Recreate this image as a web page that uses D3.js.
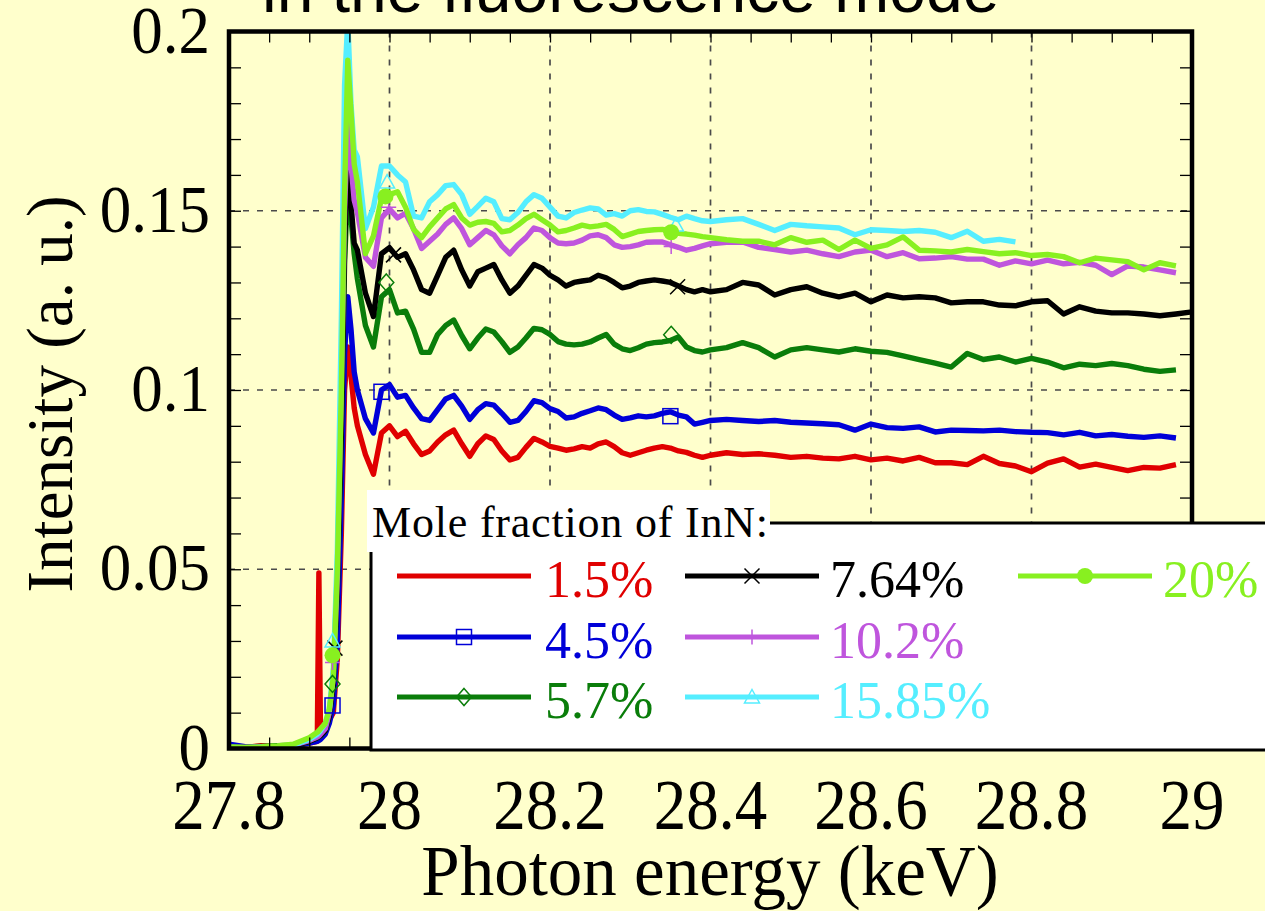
<!DOCTYPE html>
<html>
<head>
<meta charset="utf-8">
<script src="https://cdn.jsdelivr.net/npm/d3@7"></script>
<style>
  html, body { margin: 0; padding: 0; background: #ffffcc; }
  svg { display: block; }
</style>
</head>
<body>
<svg id="chart" width="1265" height="911"></svg>
<script>
// Photon energy grid (keV) shared by all spectra
const energy = [
  27.80, 27.82, 27.84, 27.86, 27.88, 27.90, 27.91, 27.912, 27.914, 27.92,
  27.925, 27.93, 27.935, 27.94, 27.944, 27.948, 27.952, 27.956, 27.96,
  27.97, 27.98, 27.99, 28.00, 28.01, 28.02, 28.03, 28.04, 28.05, 28.06,
  28.07, 28.08, 28.09, 28.10, 28.11, 28.12, 28.13, 28.14, 28.15, 28.16,
  28.17, 28.18, 28.19, 28.20, 28.21, 28.22, 28.23, 28.24, 28.25, 28.26,
  28.27, 28.28, 28.29, 28.30, 28.31, 28.32, 28.33, 28.34, 28.35, 28.36,
  28.37, 28.38, 28.39, 28.40,
  28.42, 28.44, 28.46, 28.48, 28.50, 28.52, 28.54, 28.56, 28.58, 28.60,
  28.62, 28.64, 28.66, 28.68, 28.70, 28.72, 28.74, 28.76, 28.78, 28.80,
  28.82, 28.84, 28.86, 28.88, 28.90, 28.92, 28.94, 28.96, 28.98, 29.00
];

// Fluorescence intensity (a. u.) for each InN mole fraction
const inn1_5 = [
  0.0003, 0.0002, 0.0008, 0.0004, 0.0006, 0.0015, 0.002, 0.049, 0.005, 0.006,
  0.008, 0.010, 0.025, 0.060, 0.100, 0.112, 0.104, 0.095, 0.090,
  0.082, 0.0765, 0.088, 0.090, 0.087, 0.0885, 0.085, 0.082, 0.083, 0.0855,
  0.0875, 0.0888, 0.085, 0.0815, 0.085, 0.0872, 0.0862, 0.083, 0.0805, 0.0812,
  0.084, 0.0865, 0.0855, 0.0843, 0.0838, 0.0832, 0.0836, 0.0842, 0.0838, 0.085,
  0.0855, 0.0842, 0.0825, 0.0818, 0.0825, 0.0832, 0.0838, 0.0842, 0.0838, 0.083,
  0.0826, 0.0818, 0.0812, 0.0818,
  0.0825, 0.082, 0.0822, 0.0818, 0.0812, 0.0815, 0.081, 0.0808, 0.0815, 0.0805,
  0.081, 0.0802, 0.0812, 0.0797, 0.0797, 0.0792, 0.0815, 0.0795, 0.0788, 0.0772,
  0.0796, 0.0808, 0.0785, 0.0793, 0.0784, 0.0775, 0.0784, 0.0782, 0.0792, null
];
const inn4_5 = [
  0.0012, 0.0005, 0.0004, 0.0003, 0.0008, 0.0015, 0.002, 0.0022, 0.0025, 0.004,
  0.007, 0.012, 0.030, 0.070, 0.110, 0.126, 0.117, 0.105, 0.100,
  0.092, 0.088, 0.100, 0.1015, 0.098, 0.0985, 0.095, 0.092, 0.0915, 0.0945,
  0.0975, 0.0985, 0.0955, 0.0918, 0.0945, 0.0962, 0.0958, 0.0935, 0.091, 0.0915,
  0.094, 0.097, 0.0965, 0.0948, 0.094, 0.0922, 0.0925, 0.0935, 0.0942, 0.095,
  0.0945, 0.093, 0.0918, 0.0922, 0.0928, 0.0925, 0.0928, 0.0935, 0.0939, 0.093,
  0.0925, 0.0905, 0.091, 0.0915,
  0.0918, 0.0915, 0.0912, 0.0915, 0.091, 0.0908, 0.0906, 0.0903, 0.0888, 0.0905,
  0.0895, 0.0893, 0.0897, 0.0883, 0.0888, 0.0887, 0.0886, 0.0888, 0.0884, 0.0882,
  0.0881, 0.0875, 0.0882, 0.0872, 0.0876, 0.0871, 0.0868, 0.0872, 0.0866, null
];
const inn5_7 = [
  0.0004, 0.0003, 0.0006, 0.0008, 0.0009, 0.002, 0.003, 0.0033, 0.0036, 0.005,
  0.009, 0.018, 0.045, 0.090, 0.135, 0.158, 0.148, 0.138, 0.131,
  0.118, 0.112, 0.126, 0.128, 0.1215, 0.122, 0.117, 0.1105, 0.1105, 0.1155,
  0.118, 0.1195, 0.1152, 0.1115, 0.1145, 0.117, 0.1162, 0.1135, 0.1105, 0.112,
  0.1145, 0.1172, 0.1168, 0.1155, 0.1135, 0.1128, 0.1126, 0.1128, 0.1134, 0.1145,
  0.1155, 0.1128, 0.1115, 0.111, 0.1118, 0.1128, 0.1132, 0.1134, 0.1138, 0.1148,
  0.112, 0.111, 0.1106, 0.1112,
  0.1118, 0.1132, 0.1118, 0.1092, 0.1112, 0.1118, 0.1112, 0.1106, 0.1115, 0.1108,
  0.1105, 0.1095, 0.1085, 0.1075, 0.1064, 0.1102, 0.1085, 0.1092, 0.1078, 0.1088,
  0.1078, 0.1062, 0.1072, 0.1068, 0.1074, 0.1068, 0.1058, 0.1052, 0.1056, null
];
const inn7_64 = [
  0.0003, 0.0002, 0.0005, 0.0006, 0.0008, 0.002, 0.003, 0.0033, 0.0036, 0.005,
  0.009, 0.018, 0.045, 0.090, 0.140, 0.167, 0.152, 0.141, 0.139,
  0.127, 0.1205, 0.138, 0.1397, 0.137, 0.138, 0.1335, 0.128, 0.127, 0.132,
  0.137, 0.139, 0.1335, 0.129, 0.133, 0.134, 0.135, 0.1307, 0.127, 0.129,
  0.132, 0.135, 0.134, 0.132, 0.1307, 0.129, 0.130, 0.1304, 0.1307, 0.132,
  0.1313, 0.130, 0.1285, 0.129, 0.130, 0.1304, 0.1307, 0.1304, 0.130, 0.129,
  0.128, 0.1274, 0.128, 0.1274,
  0.128, 0.130, 0.1293, 0.1265, 0.128, 0.1288, 0.127, 0.126, 0.127, 0.1246,
  0.1265, 0.1257, 0.126, 0.1257, 0.1243, 0.1246, 0.1246, 0.1237, 0.1235, 0.1246,
  0.1249, 0.1212, 0.1232, 0.122, 0.1215, 0.1215, 0.1212, 0.1207, 0.1212, 0.1218
];
const inn10_2 = [
  0.0003, 0.0003, 0.0004, 0.0006, 0.0009, 0.0022, 0.0032, 0.0035, 0.004, 0.0055,
  0.010, 0.020, 0.048, 0.100, 0.150, 0.175, 0.163, 0.153, 0.1495,
  0.137, 0.1345, 0.148, 0.1505, 0.148, 0.1493, 0.145, 0.1395, 0.1415, 0.1435,
  0.1462, 0.148, 0.145, 0.1405, 0.1425, 0.1445, 0.1433, 0.1402, 0.138, 0.1405,
  0.1425, 0.1452, 0.1445, 0.1425, 0.141, 0.1408, 0.141, 0.1418, 0.143, 0.1433,
  0.1425, 0.1405, 0.1398, 0.140, 0.1405, 0.1412, 0.1413, 0.1413, 0.1405, 0.1398,
  0.139, 0.1395, 0.1402, 0.1408,
  0.1412, 0.1413, 0.1398, 0.1392, 0.1385, 0.139, 0.138, 0.1372, 0.1385, 0.139,
  0.1372, 0.1383, 0.1366, 0.1368, 0.1372, 0.1365, 0.1365, 0.1348, 0.136, 0.1352,
  0.1362, 0.1352, 0.1356, 0.1348, 0.1322, 0.1346, 0.1343, 0.1335, 0.1327, null
];
const inn15_85 = [
  0.0003, 0.0002, 0.0004, 0.0006, 0.001, 0.0025, 0.004, 0.0045, 0.005, 0.007,
  0.011, 0.022, 0.055, 0.120, 0.185, 0.203, 0.180, 0.167, 0.165,
  0.145, 0.151, 0.1625, 0.1625, 0.160, 0.158, 0.1485, 0.148, 0.1525, 0.1545,
  0.157, 0.1573, 0.1545, 0.149, 0.1512, 0.1535, 0.1525, 0.1478, 0.1475, 0.1495,
  0.1525, 0.1545, 0.1535, 0.151, 0.1485, 0.148, 0.1495, 0.1502, 0.1508, 0.1505,
  0.1488, 0.1492, 0.1485, 0.150, 0.1503, 0.1498, 0.1497, 0.149, 0.1482, 0.1475,
  0.1485, 0.1478, 0.1472, 0.147,
  0.1475, 0.1478, 0.1462, 0.1445, 0.1462, 0.1458, 0.1455, 0.1452, 0.1433, 0.1447,
  0.1445, 0.1442, 0.1445, 0.1440, 0.1425, 0.1443, 0.1415, 0.142, 0.1413, null,
  null, null, null, null, null, null, null, null, null, null
];
const inn20 = [
  0.0004, 0.0003, 0.0004, 0.0007, 0.0012, 0.003, 0.0045, 0.005, 0.0055, 0.007,
  0.011, 0.020, 0.050, 0.100, 0.155, 0.192, 0.178, 0.163, 0.158,
  0.138, 0.143, 0.1535, 0.1545, 0.1553, 0.151, 0.1448, 0.1425, 0.1455, 0.148,
  0.1505, 0.1517, 0.148, 0.146, 0.1468, 0.147, 0.1465, 0.1441, 0.1445, 0.146,
  0.1478, 0.149, 0.1475, 0.146, 0.1441, 0.1445, 0.1452, 0.146, 0.1455, 0.1458,
  0.1462, 0.1448, 0.1428, 0.1435, 0.1442, 0.1445, 0.1447, 0.1448, 0.1444, 0.1437,
  0.1435, 0.1432, 0.1428, 0.1425,
  0.1419, 0.1415, 0.1415, 0.1405, 0.1425, 0.1412, 0.1418, 0.1392, 0.1418, 0.1395,
  0.1405, 0.1427, 0.139, 0.1388, 0.1385, 0.1392, 0.1386, 0.138, 0.1383, 0.1375,
  0.1378, 0.1372, 0.1355, 0.1368, 0.1363, 0.1358, 0.1335, 0.1355, 0.1346, null
];

// Marker points placed along each spectrum [energy, intensity]
const marks4_5   = [[27.929, 0.012], [27.990, 0.0995], [28.350, 0.0927]];
const marks5_7   = [[27.929, 0.018], [27.996, 0.130],  [28.351, 0.1154]];
const marks7_64  = [[27.932, 0.028], [28.005, 0.1377], [28.359, 0.1288]];
const marks10_2  = [[27.929, 0.024], [27.999, 0.151],  [28.351, 0.140]];
const marks15_85 = [[27.929, 0.030], [27.997, 0.158],  [28.357, 0.146]];
const marks20    = [[27.929, 0.026], [27.995, 0.154],  [28.351, 0.144]];

const seriesLabels  = ["1.5%", "4.5%", "5.7%", "7.64%", "10.2%", "15.85%", "20%"];
const seriesColors  = ["#e00000", "#0000d8", "#0a7d0a", "#000000", "#bf55dd", "#55eeff", "#88f020"];
const seriesMarkers = ["none", "square", "diamond", "cross", "plus", "triangle", "circle"];
const seriesValues  = [inn1_5, inn4_5, inn5_7, inn7_64, inn10_2, inn15_85, inn20];
const seriesMarks   = [[], marks4_5, marks5_7, marks7_64, marks10_2, marks15_85, marks20];

const xTickValues = [27.8, 28.0, 28.2, 28.4, 28.6, 28.8, 29.0];
const xTickLabels = ["27.8", "28", "28.2", "28.4", "28.6", "28.8", "29"];
const yTickValues = [0, 0.05, 0.1, 0.15, 0.2];
const yTickLabels = ["0", "0.05", "0.1", "0.15", "0.2"];

const SERIF = "'Liberation Serif', 'Times New Roman', serif";
const SANS = "'Liberation Sans', Arial, sans-serif";

const svg = d3.select("#chart");
svg.append("rect").attr("width", 1265).attr("height", 911).attr("fill", "#ffffcc");

const x = d3.scaleLinear().domain([27.8, 29.0]).range([229, 1192]);
const y = d3.scaleLinear().domain([0, 0.2]).range([748.5, 31.5]);

// Title line
svg.append("text")
  .attr("x", 262).attr("y", 12)
  .attr("font-family", SANS).attr("font-size", 66)
  .attr("fill", "#000")
  .text("in the fluorescence mode");

// Dashed grid
const grid = svg.append("g").attr("stroke", "#4a4a4a").attr("stroke-width", 1.7)
  .attr("stroke-dasharray", "6,8");
grid.selectAll("line.v").data([28.0, 28.2, 28.4, 28.6, 28.8]).join("line")
  .attr("class", "v")
  .attr("x1", d => x(d)).attr("x2", d => x(d))
  .attr("y1", y(0.2)).attr("y2", y(0));
grid.selectAll("line.h").data([0.05, 0.1, 0.15]).join("line")
  .attr("class", "h")
  .attr("x1", x(27.8)).attr("x2", x(29.0))
  .attr("y1", d => y(d)).attr("y2", d => y(d));

// Spectra
svg.append("clipPath").attr("id", "plotClip")
  .append("rect").attr("x", x(27.8)).attr("y", y(0.2))
  .attr("width", x(29.0) - x(27.8)).attr("height", y(0) - y(0.2));

const line = d3.line()
  .defined(d => d[1] !== null)
  .x(d => x(d[0])).y(d => y(d[1]));

const plot = svg.append("g").attr("clip-path", "url(#plotClip)");
seriesValues.forEach((vals, i) => {
  const pts = energy.map((e, k) => [e, vals[k]]);
  plot.append("path")
    .attr("d", line(pts))
    .attr("fill", "none")
    .attr("stroke", seriesColors[i])
    .attr("stroke-width", 5.4)
    .attr("stroke-linejoin", "round");
});

function drawMarker(g, type, cx, cy, color, s) {
  const h = s / 2;
  if (type === "square") {
    g.append("rect").attr("x", cx - h).attr("y", cy - h).attr("width", s).attr("height", s)
      .attr("fill", "none").attr("stroke", color).attr("stroke-width", 1.5);
  } else if (type === "diamond") {
    g.append("path").attr("d", `M${cx},${cy - h - 1}L${cx + h},${cy}L${cx},${cy + h + 1}L${cx - h},${cy}Z`)
      .attr("fill", "none").attr("stroke", color).attr("stroke-width", 1.5);
  } else if (type === "cross") {
    g.append("path").attr("d", `M${cx - h},${cy - h}L${cx + h},${cy + h}M${cx - h},${cy + h}L${cx + h},${cy - h}`)
      .attr("fill", "none").attr("stroke", color).attr("stroke-width", 1.5);
  } else if (type === "plus") {
    g.append("path").attr("d", `M${cx - h},${cy}L${cx + h},${cy}M${cx},${cy - h}L${cx},${cy + h}`)
      .attr("fill", "none").attr("stroke", color).attr("stroke-width", 1.5);
  } else if (type === "triangle") {
    g.append("path").attr("d", `M${cx},${cy - h}L${cx + h},${cy + h * 0.8}L${cx - h},${cy + h * 0.8}Z`)
      .attr("fill", "none").attr("stroke", color).attr("stroke-width", 1.5);
  } else if (type === "circle") {
    g.append("circle").attr("cx", cx).attr("cy", cy).attr("r", 8)
      .attr("fill", color);
  }
}

const markG = plot.append("g");
seriesMarks.forEach((pts, i) => {
  pts.forEach(p => drawMarker(markG, seriesMarkers[i], x(p[0]), y(p[1]), seriesColors[i], 15));
});

// Frame and inward ticks
const frame = svg.append("g");
frame.append("g").attr("transform", `translate(${x(27.8)},0)`)
  .call(d3.axisLeft(y).tickValues(d3.range(0, 21).map(k => k / 100)).tickSizeInner(-12).tickSizeOuter(0).tickFormat(""));
frame.append("g").attr("transform", `translate(${x(29.0)},0)`)
  .call(d3.axisRight(y).tickValues(d3.range(0, 21).map(k => k / 100)).tickSizeInner(-12).tickSizeOuter(0).tickFormat(""));
frame.append("g").attr("transform", `translate(0,${y(0.2)})`)
  .call(d3.axisTop(x).tickValues(d3.range(0, 25).map(k => 27.8 + k * 0.05)).tickSizeInner(-11).tickSizeOuter(0).tickFormat(""));
frame.append("g").attr("transform", `translate(0,${y(0)})`)
  .call(d3.axisBottom(x).tickValues(d3.range(0, 25).map(k => 27.8 + k * 0.05)).tickSizeInner(-11).tickSizeOuter(0).tickFormat(""));
frame.selectAll(".domain").remove();
frame.selectAll(".tick line").attr("stroke", "#000").attr("stroke-width", 1.3);
frame.append("rect")
  .attr("x", x(27.8)).attr("y", y(0.2))
  .attr("width", x(29.0) - x(27.8)).attr("height", y(0) - y(0.2))
  .attr("fill", "none").attr("stroke", "#000").attr("stroke-width", 4.5);

// Tick labels (slightly tall, narrow serif digits)
svg.append("g").selectAll("text").data(yTickValues).join("text")
  .attr("transform", d => `translate(210,${y(d) + 21}) scale(1,1.08)`)
  .attr("text-anchor", "end")
  .attr("font-family", SERIF).attr("font-size", 63)
  .text((d, i) => yTickLabels[i]);
svg.append("g").selectAll("text").data(xTickValues).join("text")
  .attr("transform", d => `translate(${x(d)},829) scale(1,1.12)`)
  .attr("text-anchor", "middle")
  .attr("font-family", SERIF).attr("font-size", 65)
  .text((d, i) => xTickLabels[i]);

// Axis titles
svg.append("text")
  .attr("transform", "translate(710,895) scale(1,1.04)")
  .attr("text-anchor", "middle")
  .attr("font-family", SERIF).attr("font-size", 69)
  .text("Photon energy (keV)");
svg.append("text")
  .attr("transform", "translate(72,394) rotate(-90)")
  .attr("text-anchor", "middle")
  .attr("font-family", SERIF).attr("font-size", 65)
  .text("Intensity (a. u.)");

// Legend
const legend = svg.append("g");
legend.append("rect")
  .attr("x", 371).attr("y", 523).attr("width", 920).attr("height", 227)
  .attr("fill", "#fff").attr("stroke", "#000").attr("stroke-width", 3);
legend.append("rect")
  .attr("x", 367).attr("y", 490).attr("width", 403).attr("height", 62)
  .attr("fill", "#fff");
legend.append("text")
  .attr("x", 372).attr("y", 537)
  .attr("font-family", SERIF).attr("font-size", 44)
  .attr("letter-spacing", 0.8)
  .text("Mole fraction of InN:");

const colLineX = [397, 685, 1018];
const colTextX = [545, 830, 1163];
const rowY = [576, 637, 697];
seriesLabels.forEach((lab, i) => {
  const c = Math.floor(i / 3), r = i % 3;
  const ly = rowY[r];
  legend.append("line")
    .attr("x1", colLineX[c]).attr("x2", colLineX[c] + 134)
    .attr("y1", ly).attr("y2", ly)
    .attr("stroke", seriesColors[i]).attr("stroke-width", 5);
  drawMarker(legend, seriesMarkers[i], colLineX[c] + 67, ly, seriesColors[i], 15);
  legend.append("text")
    .attr("x", colTextX[c]).attr("y", ly + 21)
    .attr("font-family", SERIF).attr("font-size", 52)
    .attr("fill", seriesColors[i])
    .text(lab);
});
</script>
</body>
</html>
